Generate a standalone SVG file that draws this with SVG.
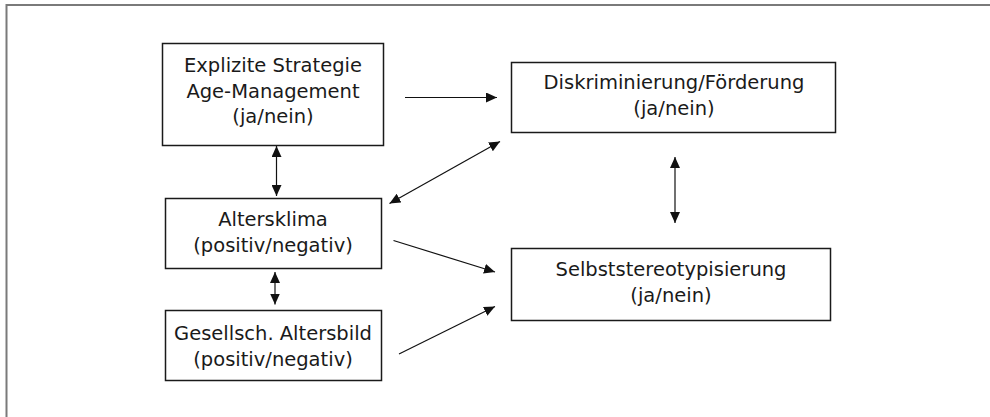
<svg xmlns="http://www.w3.org/2000/svg" width="990" height="417" viewBox="0 0 990 417">
<style>
.box{fill:#fff;stroke:#1a1a1a;stroke-width:1.5}
.t{font-family:"DejaVu Sans",Verdana,sans-serif;font-size:19.5px;fill:#1a1a1a;text-anchor:middle}
.c{stroke:#111;stroke-width:1.2;fill:none}
</style>
<defs>
<marker id="ah" markerUnits="userSpaceOnUse" markerWidth="11" markerHeight="10" refX="11" refY="5" orient="auto-start-reverse" viewBox="0 0 11 10">
<path d="M0,0 L11,5 L0,10 z" fill="#111"/>
</marker>
</defs>
<rect width="990" height="417" fill="#fff"/>
<path d="M6.5,417 V5 H990" fill="none" stroke="#7a7a7a" stroke-width="2"/>
<g id="n-strategie">
<rect class="box" x="162.5" y="43.5" width="221" height="102"/>
<text class="t" x="273" y="72">Explizite Strategie</text>
<text class="t" x="273" y="97.5">Age-Management</text>
<text class="t" x="273" y="123">(ja/nein)</text>
</g>
<g id="n-altersklima">
<rect class="box" x="165.5" y="198.5" width="216" height="70"/>
<text class="t" x="273" y="226">Altersklima</text>
<text class="t" x="273" y="251.5">(positiv/negativ)</text>
</g>
<g id="n-altersbild">
<rect class="box" x="165.5" y="310.5" width="216" height="70"/>
<text class="t" x="273" y="340">Gesellsch. Altersbild</text>
<text class="t" x="273" y="365.5">(positiv/negativ)</text>
</g>
<g id="n-diskriminierung">
<rect class="box" x="511.5" y="62.5" width="324" height="70"/>
<text class="t" x="674" y="88.5">Diskriminierung/Förderung</text>
<text class="t" x="674" y="114.5">(ja/nein)</text>
</g>
<g id="n-selbst">
<rect class="box" x="511.5" y="248.5" width="319" height="72"/>
<text class="t" x="671" y="275.5">Selbststereotypisierung</text>
<text class="t" x="671" y="301.5">(ja/nein)</text>
</g>
<g id="connectors">
<line class="c" x1="405" y1="97.5" x2="497" y2="97.5" marker-end="url(#ah)"/>
<line class="c" x1="276.5" y1="146" x2="276.5" y2="196" marker-start="url(#ah)" marker-end="url(#ah)"/>
<line class="c" x1="500" y1="141.5" x2="389.5" y2="203.5" marker-start="url(#ah)" marker-end="url(#ah)"/>
<line class="c" x1="675" y1="157" x2="675" y2="223" marker-start="url(#ah)" marker-end="url(#ah)"/>
<line class="c" x1="393.5" y1="240.5" x2="495" y2="272" marker-end="url(#ah)"/>
<line class="c" x1="275" y1="272" x2="275" y2="304.5" marker-start="url(#ah)" marker-end="url(#ah)"/>
<line class="c" x1="399" y1="354" x2="495" y2="306.5" marker-end="url(#ah)"/>
</g>
</svg>
